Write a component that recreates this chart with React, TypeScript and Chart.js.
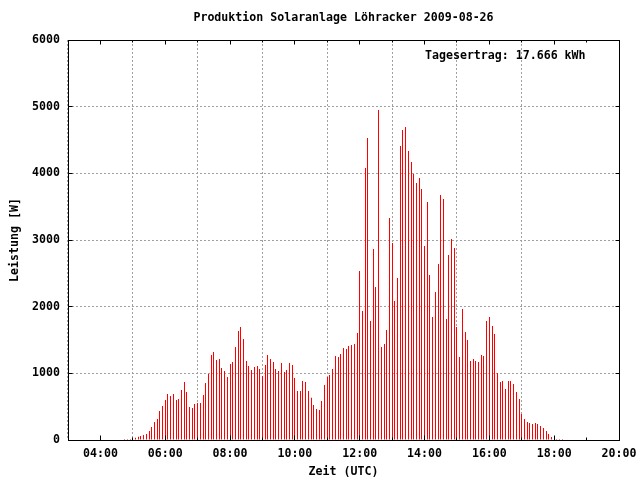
import React, { useEffect, useRef } from "react";
import { Chart, registerables } from "chart.js";

Chart.register(...registerables);

// ---- texts ----
const TITLE = "Produktion Solaranlage Löhracker 2009-08-26";
const X_TITLE = "Zeit (UTC)";
const Y_TITLE = "Leistung [W]";
const YIELD_LABEL = "Tagesertrag: 17.666 kWh";

// ---- axes ----
const X_MIN = "03:00";
const X_MAX = "20:00";
const X_MAJOR_TICKS = ["04:00", "06:00", "08:00", "10:00", "12:00", "14:00", "16:00", "18:00", "20:00"];
const X_MINOR_TICKS = ["05:00", "07:00", "09:00", "11:00", "13:00", "15:00", "17:00", "19:00"];
const Y_TICKS = [0, 1000, 2000, 3000, 4000, 5000, 6000];

// ---- data: one sample every 5 minutes ----
const START_TIME = "04:45";
const STEP_MINUTES = 5;
const POWER = [
  15, 15, 15, 30, 35, 50, 60, 75, 90, 135, 195, 270, 315, 435, 510,
  600, 690, 660, 690, 600, 615, 750, 870, 720, 495, 480, 540,
  555, 555, 675, 855, 990, 1275, 1320, 1200, 1215, 1080, 1035, 945,
  1140, 1170, 1395, 1635, 1695, 1515, 1185, 1110, 1050, 1095, 1110, 1065,
  960, 1125, 1275, 1215, 1170, 1065, 1035, 1155, 1020, 1050, 1155, 1125,
  930, 735, 735, 885, 870, 735, 635, 525, 465, 450, 585, 825,
  945, 975, 1065, 1260, 1245, 1290, 1380, 1365, 1410, 1425, 1440, 1605,
  2535, 1935, 4080, 4530, 1785, 2865, 2295, 4950, 1395, 1440, 1650, 3330,
  2955, 2085, 2430, 4410, 4650, 4695, 4335, 4170, 3990, 3855, 3930, 3765,
  2910, 3570, 2475, 1845, 2220, 2640, 3675, 3615, 1815, 2775, 3015, 2880,
  1695, 1245, 1965, 1620, 1500, 1185, 1215, 1185, 1170, 1275, 1260, 1785,
  1845, 1710, 1590, 1005, 870, 885, 765, 885, 885, 840, 720, 615,
  390, 315, 270, 255, 240, 255, 240, 210, 180, 135, 90, 45,
  60, 15, 15, 15,
];

const toMin = (s: string) => {
  const [h, m] = s.split(":").map(Number);
  return h * 60 + m;
};
const fmt = (v: number) => {
  const h = Math.floor(v / 60);
  const m = Math.round(v % 60);
  return String(h).padStart(2, "0") + ":" + String(m).padStart(2, "0");
};

const FONT_FAMILY = "'DejaVu Sans Mono', 'Liberation Mono', monospace";
const FONT_SIZE = 11.6;
const FONT = { family: FONT_FAMILY, size: FONT_SIZE, weight: "bold" };

const framePlugin = {
  id: "gnuplotFrame",
  afterDatasetUpdate(chart: any, args: any) {
    // snap 1px impulses to whole device pixels, like gnuplot does
    args.meta.data.forEach((el: any) => {
      el.x = Math.round(el.x - 0.5) + 0.5;
    });
  },
  afterDatasetsDraw(chart: any) {
    const { ctx, chartArea } = chart;
    const xs = chart.scales.x;
    const ys = chart.scales.y;
    const L = Math.round(chartArea.left);
    const R = Math.round(chartArea.right);
    const T = Math.round(chartArea.top);
    const B = Math.round(chartArea.bottom);
    ctx.save();
    ctx.strokeStyle = "#000";
    ctx.lineWidth = 1;
    ctx.beginPath();
    const tick = (x1: number, y1: number, x2: number, y2: number) => {
      ctx.moveTo(x1, y1);
      ctx.lineTo(x2, y2);
    };
    X_MAJOR_TICKS.forEach((t) => {
      const px = Math.round(xs.getPixelForValue(toMin(t)) - 0.5) + 0.5;
      tick(px, B + 0.5, px, B - 4.5);
      tick(px, T + 0.5, px, T + 4.5);
    });
    X_MINOR_TICKS.forEach((t) => {
      const px = Math.round(xs.getPixelForValue(toMin(t)) - 0.5) + 0.5;
      tick(px, B + 0.5, px, B - 2.5);
      tick(px, T + 0.5, px, T + 2.5);
    });
    Y_TICKS.forEach((v) => {
      const py = Math.round(ys.getPixelForValue(v) - 0.5) + 0.5;
      tick(L + 0.5, py, L + 4.5, py);
      tick(R + 0.5, py, R - 3.5, py);
    });
    ctx.stroke();
    ctx.strokeRect(L + 0.5, T + 0.5, R - L, B - T);
    ctx.restore();
  },
  afterDraw(chart: any) {
    const { ctx, chartArea } = chart;
    ctx.save();
    ctx.fillStyle = "#000";
    ctx.font = `bold ${FONT_SIZE}px ${FONT_FAMILY}`;
    ctx.textBaseline = "middle";
    ctx.textAlign = "center";
    ctx.fillText(TITLE, (chartArea.left + chartArea.right) / 2, 18);
    ctx.textAlign = "left";
    ctx.fillText(YIELD_LABEL, 425, 56);
    ctx.restore();
  },
};

export default function App() {
  const canvasRef = useRef<HTMLCanvasElement | null>(null);

  useEffect(() => {
    if (!canvasRef.current) return;
    const start = toMin(START_TIME);
    const points = POWER.map((v, i) => ({ x: start + i * STEP_MINUTES, y: v }));

    const chart = new Chart(canvasRef.current, {
      type: "bar",
      data: {
        datasets: [
          {
            data: points as any,
            backgroundColor: "#ff0000",
            borderWidth: 0,
            barThickness: 1,
            inflateAmount: 0,
            grouped: false,
          } as any,
        ],
      },
      options: {
        animation: false,
        responsive: false,
        maintainAspectRatio: false,
        events: [],
        layout: { padding: { left: 0, right: 21, top: 40, bottom: 0 } },
        font: FONT as any,
        plugins: {
          legend: { display: false },
          tooltip: { enabled: false },
          title: { display: false },
        },
        scales: {
          x: {
            type: "linear",
            min: toMin(X_MIN),
            max: toMin(X_MAX),
            offset: false,
            afterBuildTicks: (scale: any) => {
              scale.ticks = X_MAJOR_TICKS.map((t) => ({ value: toMin(t) }));
            },
            afterFit: (scale: any) => {
              scale.height = 40;
              scale.paddingLeft = 0;
              scale.paddingRight = 0;
            },
            ticks: {
              color: "#000",
              font: FONT,
              padding: 7,
              maxRotation: 0,
              autoSkip: false,
              callback: (v: any) => fmt(Number(v)),
            },
            grid: {
              drawTicks: false,
              color: (ctx: any) => {
                const v = ctx.tick ? ctx.tick.value : null;
                return v === toMin(X_MAX) || v === toMin(X_MIN) ? "rgba(0,0,0,0)" : "#a0a0a0";
              },
              lineWidth: 1,
            },
            border: { display: false, dash: [2, 2] },
            title: {
              display: true,
              text: X_TITLE,
              color: "#000",
              font: FONT,
              padding: { top: 0, bottom: 1 },
            },
          },
          y: {
            type: "linear",
            min: Y_TICKS[0],
            max: Y_TICKS[Y_TICKS.length - 1],
            afterBuildTicks: (scale: any) => {
              scale.ticks = Y_TICKS.map((v) => ({ value: v }));
            },
            afterFit: (scale: any) => {
              scale.width = 68;
              scale.paddingTop = 0;
              scale.paddingBottom = 0;
            },
            ticks: {
              color: "#000",
              font: FONT,
              padding: 8,
              callback: (v: any) => String(v),
            },
            grid: {
              drawTicks: false,
              color: (ctx: any) => {
                const v = ctx.tick ? ctx.tick.value : null;
                return v === Y_TICKS[0] || v === Y_TICKS[Y_TICKS.length - 1] ? "rgba(0,0,0,0)" : "#a0a0a0";
              },
              lineWidth: 1,
            },
            border: { display: false, dash: [2, 2] },
            title: {
              display: true,
              text: Y_TITLE,
              color: "#000",
              font: FONT,
              padding: { top: 8, bottom: 0 },
            },
          },
        },
      } as any,
      plugins: [framePlugin],
    });
    return () => chart.destroy();
  }, []);

  return (
    <div style={{ position: "fixed", left: 0, top: 0, width: 640, height: 480, background: "#fff" }}>
      <canvas ref={canvasRef} width={640} height={480} style={{ width: 640, height: 480, display: "block" }} />
    </div>
  );
}
